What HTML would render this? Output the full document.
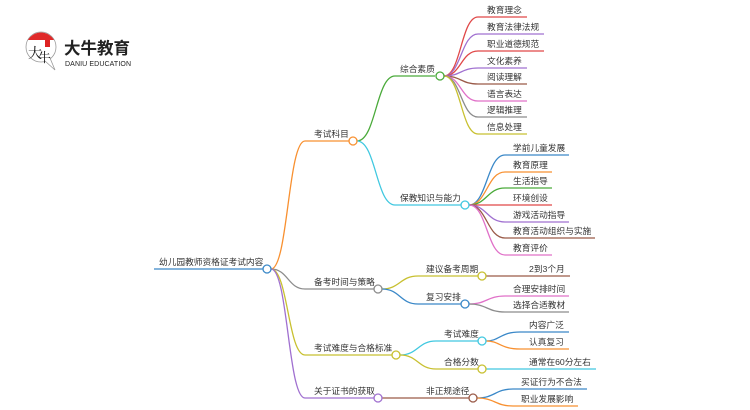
<!DOCTYPE html>
<html><head><meta charset="utf-8"><style>
html,body{margin:0;padding:0;background:#fff;width:750px;height:410px;overflow:hidden}
svg text{font-family:"Liberation Sans","Noto Sans CJK SC",sans-serif;font-size:8.7px;fill:#333}
</style></head><body>
<svg width="750" height="410" viewBox="0 0 750 410" xmlns="http://www.w3.org/2000/svg">
<!-- logo -->
<circle cx="41" cy="47" r="15" fill="#fff" stroke="#999" stroke-width="0.8"/>
<path d="M28 40 A15 15 0 0 1 54 40 Z" fill="#e02a2a"/>
<path d="M50 58 L55 70 L45 61" fill="#fff" stroke="#999" stroke-width="0.8"/>
<text x="28" y="58" style="font-size:14px;fill:#111;font-family:'Noto Serif CJK SC',serif">大</text>
<text x="38" y="62" style="font-size:13px;fill:#111;font-family:'Noto Serif CJK SC',serif">牛</text>
<rect x="45" y="40" width="5" height="7" fill="#d22"/>
<text x="64" y="54" style="font-size:16.5px;font-weight:bold;fill:#222">大牛教育</text>
<text x="65" y="66" style="font-size:7px;fill:#222" textLength="66">DANIU EDUCATION</text>

<g fill="none" stroke-width="1.3">
<!-- root -->
<path d="M154 269 H263" stroke="#3a88c8"/>
<!-- level1 -->
<path d="M271 269 C288 269 288 141 305 141 H349" stroke="#f89030"/>
<path d="M271 269 C288 269 288 289 305 289 H374" stroke="#8c8c8c"/>
<path d="M271 269 C288 269 288 355 305 355 H392" stroke="#c8c030"/>
<path d="M271 269 C288 269 288 398 305 398 H374" stroke="#a070d0"/>
<!-- 考试科目 children -->
<path d="M357 141 C376 141 376 76 395 76 H435" stroke="#4aaa3a"/>
<path d="M357 141 C376 141 376 205 395 205 H461" stroke="#40c8e0"/>
<!-- 综合素质 leaves -->
<path d="M444 76 C461 76 461 17 478 17 H527" stroke="#e04848"/>
<path d="M444 76 C461 76 461 34 478 34 H544" stroke="#a070d0"/>
<path d="M444 76 C461 76 461 51 478 51 H544" stroke="#e04848"/>
<path d="M444 76 C461 76 461 68 478 68 H527" stroke="#a070d0"/>
<path d="M444 76 C461 76 461 84 478 84 H527" stroke="#9a5a48"/>
<path d="M444 76 C461 76 461 101 478 101 H527" stroke="#e070c8"/>
<path d="M444 76 C461 76 461 117 478 117 H527" stroke="#8c8c8c"/>
<path d="M444 76 C461 76 461 134 478 134 H527" stroke="#c8c030"/>
<!-- 保教 leaves -->
<path d="M469 205 C487 205 487 155 505 155 H569" stroke="#3a88c8"/>
<path d="M469 205 C487 205 487 172 505 172 H552" stroke="#f89030"/>
<path d="M469 205 C487 205 487 188 505 188 H552" stroke="#4aaa3a"/>
<path d="M469 205 H552" stroke="#e04848"/>
<path d="M469 205 C487 205 487 222 505 222 H569" stroke="#a070d0"/>
<path d="M469 205 C487 205 487 238 505 238 H595" stroke="#9a5a48"/>
<path d="M469 205 C487 205 487 255 505 255 H552" stroke="#e070c8"/>
<!-- 备考 -->
<path d="M382 289 C400 289 400 276 418 276 H478" stroke="#c8c030"/>
<path d="M382 289 C400 289 400 304 418 304 H461" stroke="#3a88c8"/>
<path d="M486 276 H570" stroke="#9a5a48"/>
<path d="M469 304 C487 304 487 296 505 296 H569" stroke="#e070c8"/>
<path d="M469 304 C487 304 487 312 505 312 H569" stroke="#8c8c8c"/>
<!-- 难度 -->
<path d="M400 355 C418 355 418 341 436 341 H478" stroke="#40c8e0"/>
<path d="M400 355 C418 355 418 369 436 369 H478" stroke="#c8c030"/>
<path d="M486 341 C500 341 500 332 520 332 H569" stroke="#3a88c8"/>
<path d="M486 341 C500 341 500 349 520 349 H569" stroke="#f89030"/>
<path d="M486 369 H596" stroke="#40c8e0"/>
<!-- 获取 -->
<path d="M382 398 H469" stroke="#9a5a48"/>
<path d="M477 398 C495 398 495 389 513 389 H587" stroke="#3a88c8"/>
<path d="M477 398 C495 398 495 406 513 406 H578" stroke="#f89030"/>
</g>
<g fill="#fff" stroke-width="1.3">
<circle cx="267" cy="269" r="4" stroke="#3a88c8"/>
<circle cx="353" cy="141" r="4" stroke="#f89030"/>
<circle cx="378" cy="289" r="4" stroke="#8c8c8c"/>
<circle cx="396" cy="355" r="4" stroke="#c8c030"/>
<circle cx="378" cy="398" r="4" stroke="#a070d0"/>
<circle cx="440" cy="76" r="4" stroke="#4aaa3a"/>
<circle cx="465" cy="205" r="4" stroke="#40c8e0"/>
<circle cx="482" cy="276" r="4" stroke="#c8c030"/>
<circle cx="465" cy="304" r="4" stroke="#3a88c8"/>
<circle cx="482" cy="341" r="4" stroke="#40c8e0"/>
<circle cx="482" cy="369" r="4" stroke="#c8c030"/>
<circle cx="473" cy="398" r="4" stroke="#9a5a48"/>
</g>
<text x="159" y="265">幼儿园教师资格证考试内容</text>
<text x="314" y="137">考试科目</text>
<text x="314" y="285">备考时间与策略</text>
<text x="314" y="351">考试难度与合格标准</text>
<text x="314" y="394">关于证书的获取</text>
<text x="400" y="72">综合素质</text>
<text x="400" y="201">保教知识与能力</text>
<text x="487" y="13">教育理念</text>
<text x="487" y="30">教育法律法规</text>
<text x="487" y="47">职业道德规范</text>
<text x="487" y="64">文化素养</text>
<text x="487" y="80">阅读理解</text>
<text x="487" y="97">语言表达</text>
<text x="487" y="113">逻辑推理</text>
<text x="487" y="130">信息处理</text>
<text x="513" y="151">学前儿童发展</text>
<text x="513" y="168">教育原理</text>
<text x="513" y="184">生活指导</text>
<text x="513" y="201">环境创设</text>
<text x="513" y="218">游戏活动指导</text>
<text x="513" y="234">教育活动组织与实施</text>
<text x="513" y="251">教育评价</text>
<text x="426" y="272">建议备考周期</text>
<text x="426" y="300">复习安排</text>
<text x="529" y="272">2到3个月</text>
<text x="513" y="292">合理安排时间</text>
<text x="513" y="308">选择合适教材</text>
<text x="444" y="337">考试难度</text>
<text x="444" y="365">合格分数</text>
<text x="529" y="328">内容广泛</text>
<text x="529" y="345">认真复习</text>
<text x="529" y="365">通常在60分左右</text>
<text x="426" y="394">非正规途径</text>
<text x="521" y="385">买证行为不合法</text>
<text x="521" y="402">职业发展影响</text>
</svg>
</body></html>
